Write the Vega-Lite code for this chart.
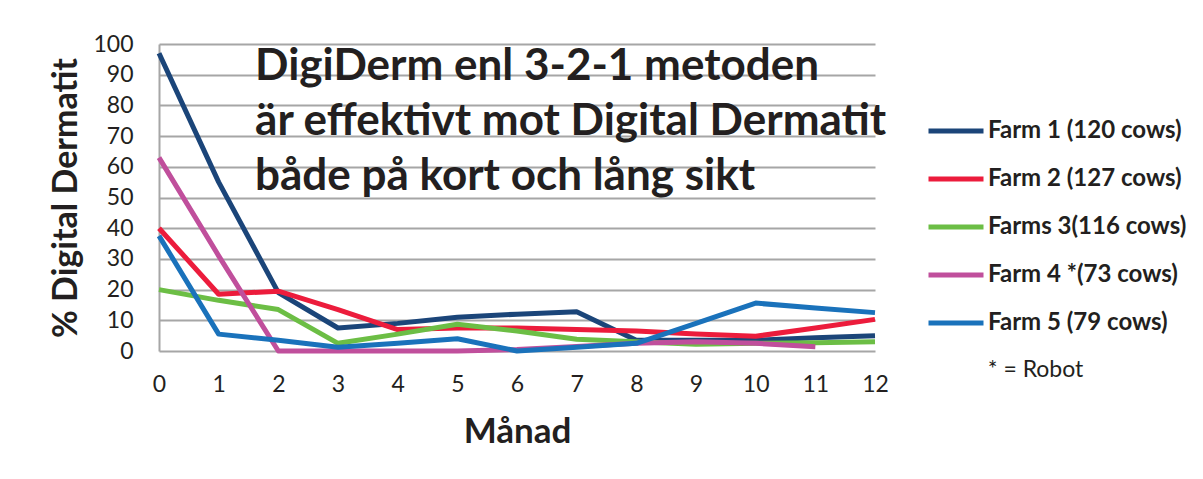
{
  "$schema": "https://vega.github.io/schema/vega-lite/v6.json",
  "width": 716,
  "height": 307,
  "autosize": "none",
  "padding": {"left": 159, "top": 44, "right": 328, "bottom": 128},
  "background": "white",
  "config": {"view": {"stroke": null}, "font": "Lato"},
  "layer": [
    {
      "data": {
        "values": [
          {"month": 0, "farm": "Farm 1 (120 cows)", "pct": 97},
          {"month": 1, "farm": "Farm 1 (120 cows)", "pct": 55},
          {"month": 2, "farm": "Farm 1 (120 cows)", "pct": 19},
          {"month": 3, "farm": "Farm 1 (120 cows)", "pct": 7.5},
          {"month": 4, "farm": "Farm 1 (120 cows)", "pct": 9},
          {"month": 5, "farm": "Farm 1 (120 cows)", "pct": 11},
          {"month": 6, "farm": "Farm 1 (120 cows)", "pct": 12},
          {"month": 7, "farm": "Farm 1 (120 cows)", "pct": 12.8},
          {"month": 8, "farm": "Farm 1 (120 cows)", "pct": 3.5},
          {"month": 9, "farm": "Farm 1 (120 cows)", "pct": 3.5},
          {"month": 10, "farm": "Farm 1 (120 cows)", "pct": 3.5},
          {"month": 11, "farm": "Farm 1 (120 cows)", "pct": 4.3},
          {"month": 12, "farm": "Farm 1 (120 cows)", "pct": 5},
          {"month": 0, "farm": "Farm 2 (127 cows)", "pct": 40},
          {"month": 1, "farm": "Farm 2 (127 cows)", "pct": 18.5},
          {"month": 2, "farm": "Farm 2 (127 cows)", "pct": 19.5},
          {"month": 3, "farm": "Farm 2 (127 cows)", "pct": 13.5},
          {"month": 4, "farm": "Farm 2 (127 cows)", "pct": 7},
          {"month": 5, "farm": "Farm 2 (127 cows)", "pct": 7.5},
          {"month": 6, "farm": "Farm 2 (127 cows)", "pct": 7.5},
          {"month": 7, "farm": "Farm 2 (127 cows)", "pct": 7},
          {"month": 8, "farm": "Farm 2 (127 cows)", "pct": 6.5},
          {"month": 9, "farm": "Farm 2 (127 cows)", "pct": 5.5},
          {"month": 10, "farm": "Farm 2 (127 cows)", "pct": 4.8},
          {"month": 11, "farm": "Farm 2 (127 cows)", "pct": 7.5},
          {"month": 12, "farm": "Farm 2 (127 cows)", "pct": 10.3},
          {"month": 0, "farm": "Farms 3(116 cows)", "pct": 20},
          {"month": 1, "farm": "Farms 3(116 cows)", "pct": 16.5},
          {"month": 2, "farm": "Farms 3(116 cows)", "pct": 13.5},
          {"month": 3, "farm": "Farms 3(116 cows)", "pct": 2.5},
          {"month": 4, "farm": "Farms 3(116 cows)", "pct": 5.5},
          {"month": 5, "farm": "Farms 3(116 cows)", "pct": 8.7},
          {"month": 6, "farm": "Farms 3(116 cows)", "pct": 6.5},
          {"month": 7, "farm": "Farms 3(116 cows)", "pct": 3.8},
          {"month": 8, "farm": "Farms 3(116 cows)", "pct": 3},
          {"month": 9, "farm": "Farms 3(116 cows)", "pct": 2.2},
          {"month": 10, "farm": "Farms 3(116 cows)", "pct": 2.5},
          {"month": 11, "farm": "Farms 3(116 cows)", "pct": 2.7},
          {"month": 12, "farm": "Farms 3(116 cows)", "pct": 3},
          {"month": 0, "farm": "Farm 4 *(73 cows)", "pct": 63},
          {"month": 1, "farm": "Farm 4 *(73 cows)", "pct": 31},
          {"month": 2, "farm": "Farm 4 *(73 cows)", "pct": 0},
          {"month": 3, "farm": "Farm 4 *(73 cows)", "pct": 0},
          {"month": 4, "farm": "Farm 4 *(73 cows)", "pct": 0},
          {"month": 5, "farm": "Farm 4 *(73 cows)", "pct": 0},
          {"month": 6, "farm": "Farm 4 *(73 cows)", "pct": 0.5},
          {"month": 7, "farm": "Farm 4 *(73 cows)", "pct": 1.5},
          {"month": 8, "farm": "Farm 4 *(73 cows)", "pct": 2.5},
          {"month": 9, "farm": "Farm 4 *(73 cows)", "pct": 3},
          {"month": 10, "farm": "Farm 4 *(73 cows)", "pct": 2.5},
          {"month": 11, "farm": "Farm 4 *(73 cows)", "pct": 1.4},
          {"month": 0, "farm": "Farm 5 (79 cows)", "pct": 37.5},
          {"month": 1, "farm": "Farm 5 (79 cows)", "pct": 5.5},
          {"month": 2, "farm": "Farm 5 (79 cows)", "pct": 3.5},
          {"month": 3, "farm": "Farm 5 (79 cows)", "pct": 1.2},
          {"month": 4, "farm": "Farm 5 (79 cows)", "pct": 2.5},
          {"month": 5, "farm": "Farm 5 (79 cows)", "pct": 4},
          {"month": 6, "farm": "Farm 5 (79 cows)", "pct": 0},
          {"month": 7, "farm": "Farm 5 (79 cows)", "pct": 1.2},
          {"month": 8, "farm": "Farm 5 (79 cows)", "pct": 2.5},
          {"month": 9, "farm": "Farm 5 (79 cows)", "pct": 9},
          {"month": 10, "farm": "Farm 5 (79 cows)", "pct": 15.6},
          {"month": 11, "farm": "Farm 5 (79 cows)", "pct": 14},
          {"month": 12, "farm": "Farm 5 (79 cows)", "pct": 12.5}
        ]
      },
      "mark": {"type": "line", "strokeWidth": 5, "strokeJoin": "round"},
      "encoding": {
        "x": {
          "field": "month",
          "type": "quantitative",
          "scale": {"domain": [0, 12], "nice": false},
          "axis": {
            "values": [0, 1, 2, 3, 4, 5, 6, 7, 8, 9, 10, 11, 12],
            "tickCount": 13,
            "format": "d",
            "title": "Månad",
            "grid": false,
            "domain": false,
            "ticks": false,
            "labelFontSize": 23,
            "labelPadding": 22,
            "labelOverlap": false,
            "labelColor": "#231F20",
            "labelFlush": false,
            "titleFontSize": 35,
            "titleFontWeight": "bold",
            "titleColor": "#231F20",
            "titlePadding": 18
          }
        },
        "y": {
          "field": "pct",
          "type": "quantitative",
          "scale": {"domain": [0, 100], "nice": false},
          "axis": {
            "values": [0, 10, 20, 30, 40, 50, 60, 70, 80, 90, 100],
            "tickCount": 11,
            "format": "d",
            "title": "% Digital Dermatit",
            "gridColor": "#A6A6A6",
            "gridWidth": 2,
            "domainColor": "#A6A6A6",
            "domainWidth": 2,
            "ticks": false,
            "labelFontSize": 23,
            "labelPadding": 26,
            "labelOverlap": false,
            "labelColor": "#231F20",
            "labelFlush": false,
            "titleFontSize": 34,
            "titleFontWeight": "bold",
            "titleColor": "#231F20",
            "titlePadding": 9
          }
        },
        "color": {
          "field": "farm",
          "type": "nominal",
          "scale": {
            "domain": ["Farm 1 (120 cows)", "Farm 2 (127 cows)", "Farms 3(116 cows)", "Farm 4 *(73 cows)", "Farm 5 (79 cows)"],
            "range": ["#1B4579", "#EC1C3C", "#6CBE45", "#C04F9C", "#1A72BB"]
          },
          "legend": {
            "title": null,
            "orient": "none",
            "legendX": 767,
            "legendY": 63,
            "padding": 0,
            "symbolType": "stroke",
            "symbolSize": 3025,
            "symbolStrokeWidth": 5,
            "clipHeight": 48,
            "rowPadding": 0,
            "labelOffset": 2,
            "labelFontSize": 24,
            "labelFontWeight": "bold",
            "labelColor": "#231F20",
            "labelLimit": 300
          }
        }
      }
    },
    {
      "data": {"values": [{"note": "DigiDerm enl 3-2-1 metoden\när effektivt mot Digital Dermatit\nbåde på kort och lång sikt"}]},
      "mark": {"type": "text", "align": "left", "baseline": "alphabetic", "fontSize": 44, "fontWeight": "bold", "lineHeight": 55, "lineBreak": "\n", "color": "#231F20"},
      "encoding": {
        "x": {"datum": 1.61, "type": "quantitative"},
        "y": {"datum": 88.3, "type": "quantitative"},
        "text": {"field": "note"}
      }
    },
    {
      "data": {"values": [{"note": "* = Robot"}]},
      "mark": {"type": "text", "align": "left", "baseline": "middle", "fontSize": 23, "color": "#231F20"},
      "encoding": {
        "x": {"datum": 13.89, "type": "quantitative"},
        "y": {"datum": -6.2, "type": "quantitative"},
        "text": {"field": "note"}
      }
    }
  ]
}
